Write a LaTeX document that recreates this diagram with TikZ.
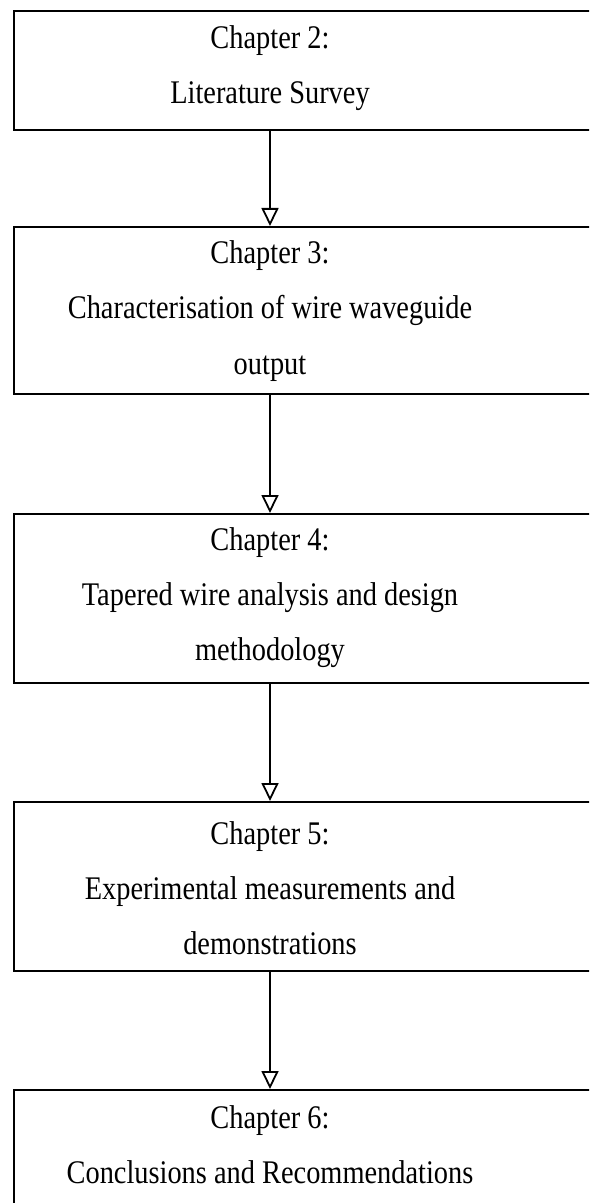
\documentclass[tikz,border=0pt]{standalone}
\usepackage{fontspec}
\setmainfont{Liberation Serif}[FakeStretch=0.86]
\usepackage{tikz}
\usetikzlibrary{arrows.meta}
\tikzset{chapbox/.style={
    draw, line width=1pt, rectangle, anchor=north west,
    minimum width=313.5pt, inner sep=0pt
  },
  chaptext/.style={
    align=center, inner sep=0pt, anchor=base,
    font=\fontsize{16.5pt}{27.5pt}\selectfont
  },
  flow/.style={
    line width=0.8pt,
    -{Triangle[open, width=8.5pt, length=9pt, line width=0.9pt]}
  }
}

\begin{document}
\begin{tikzpicture}[x=0.5pt,y=-0.5pt]
      \useasboundingbox (0,0) rectangle (589,1203);
      \clip (0,0) rectangle (589,1203);
      % chapter boxes, right edge runs off the page
      \node[chapbox, minimum height=59.5pt] (b2) at (13,10) {};
      \node[chapbox, minimum height=83.5pt] (b3) at (13,226) {};
      \node[chapbox, minimum height=84.5pt] (b4) at (13,513) {};
      \node[chapbox, minimum height=84.5pt] (b5) at (13,801) {};
      \node[chapbox, minimum height=84.5pt] (b6) at (13,1089) {};
      % base = last line
      \node[chaptext] (t2) at (270,104) {Chapter 2:\\Literature Survey};
      \node[chaptext] (t3) at (270,374) {Chapter 3:\\Characterisation of wire waveguide\\output};
      \node[chaptext] (t4) at (270,660) {Chapter 4:\\Tapered wire analysis and design\\methodology};
      \node[chaptext] (t5) at (270,954) {Chapter 5:\\Experimental measurements and\\demonstrations};
      \node[chaptext] (t6) at (270,1183) {Chapter 6:\\Conclusions and Recommendations};
      \draw[flow] (b2.south -| t2) -- (b3.north -| t2);
      \draw[flow] (b3.south -| t3) -- (b4.north -| t3);
      \draw[flow] (b4.south -| t4) -- (b5.north -| t4);
      \draw[flow] (b5.south -| t5) -- (b6.north -| t5);
    \end{tikzpicture}
\end{document}
